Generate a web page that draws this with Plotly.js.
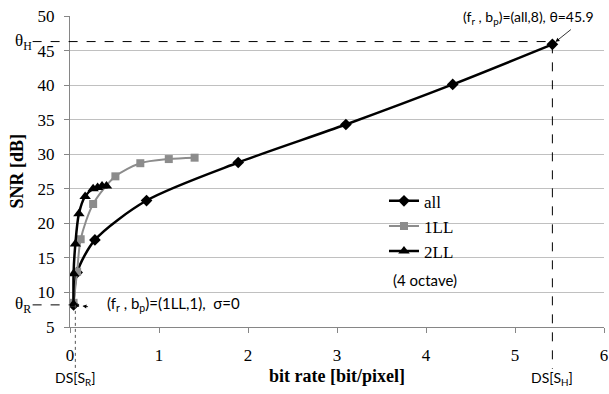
<!DOCTYPE html>
<html><head><meta charset="utf-8">
<script src="https://cdn.plot.ly/plotly-3.0.1.min.js"></script>
<style>body{margin:0;background:#fff}#chart{width:609px;height:394px}</style>
</head><body><div id="chart"></div>
<script>
// Data
const seriesNames = ["all", "1LL", "2LL"];
const allX = [0.04, 0.08, 0.28, 0.86, 1.89, 3.10, 4.30, 5.42];
const allY = [8.2, 12.9, 17.6, 23.3, 28.8, 34.3, 40.1, 45.9];
const oneLLX = [0.04, 0.08, 0.12, 0.26, 0.51, 0.79, 1.11, 1.40];
const oneLLY = [8.5, 13.0, 17.7, 22.8, 26.8, 28.7, 29.3, 29.5];
const twoLLX = [0.04, 0.04, 0.06, 0.10, 0.17, 0.26, 0.31, 0.36, 0.41];
const twoLLY = [8.3, 12.7, 17.0, 21.4, 23.9, 25.0, 25.2, 25.4, 25.4];
const xTicks = [0, 1, 2, 3, 4, 5, 6];
const yTicks = [5, 10, 15, 20, 25, 30, 35, 40, 45, 50];
const xRange = [0, 6];
const yRange = [5, 50];

const serif = "Liberation Serif, Times New Roman, serif";
const sans = "Lato, Open Sans, sans-serif";

const traces = [
  {x: allX, y: allY, name: seriesNames[0], mode: "lines+markers",
   line: {color: "#000", width: 2.5, shape: "spline", smoothing: 0.8},
   marker: {symbol: "diamond", size: 9, color: "#000"}},
  {x: oneLLX, y: oneLLY, name: seriesNames[1], mode: "lines+markers",
   line: {color: "#8c8c8c", width: 2, shape: "spline", smoothing: 0.8},
   marker: {symbol: "square", size: 8, color: "#8c8c8c"}},
  {x: twoLLX, y: twoLLY, name: seriesNames[2], mode: "lines+markers",
   line: {color: "#000", width: 2.5, shape: "spline", smoothing: 0.8},
   marker: {symbol: "triangle-up", size: 10, color: "#000"}}
];

// reference points
const hX = allX[allX.length - 1], hY = allY[allY.length - 1];
const rX = allX[0], rY = allY[0];
const toPaperX = v => (v - xRange[0]) / (xRange[1] - xRange[0]);
const toPaperY = v => (v - yRange[0]) / (yRange[1] - yRange[0]);
const dash = {color: "#000", width: 1, dash: "dash"};

const layout = {
  width: 609, height: 394,
  margin: {l: 70, r: 5, t: 16, b: 67},
  paper_bgcolor: "#fff", plot_bgcolor: "#fff",
  showlegend: true,
  legend: {x: 0.588, y: 0.462, xanchor: "left", yanchor: "top",
           font: {family: serif, size: 17, color: "#000"},
           bgcolor: "rgba(0,0,0,0)", tracegroupgap: 0, itemwidth: 30},
  xaxis: {range: xRange, tickvals: xTicks, showgrid: false, zeroline: false,
          showline: true, linecolor: "#868686", linewidth: 1,
          ticks: "outside", ticklen: 5, tickcolor: "#868686",
          tickfont: {family: serif, size: 17, color: "#000"}, ticklabelstandoff: 8,
          title: {text: "<b>bit rate [bit/pixel]</b>", font: {family: serif, size: 18, color: "#000"}, standoff: 4}},
  yaxis: {range: yRange, tickvals: yTicks, showgrid: true, gridcolor: "#c0c0c0", gridwidth: 1,
          zeroline: false, showline: true, linecolor: "#868686", linewidth: 1,
          ticks: "outside", ticklen: 5, tickcolor: "#868686",
          tickfont: {family: serif, size: 17, color: "#000"}, ticklabelstandoff: 6},
  shapes: [
    {type: "line", xref: "paper", yref: "y", x0: -0.07, x1: toPaperX(hX), y0: hY + 0.4, y1: hY + 0.4, line: dash},
    {type: "line", xref: "x", yref: "paper", x0: hX, x1: hX, y0: toPaperY(hY), y1: -0.135, line: dash},
    {type: "line", xref: "paper", yref: "y", x0: -0.07, x1: toPaperX(rX), y0: rY, y1: rY, line: dash},
    {type: "line", xref: "x", yref: "paper", x0: rX + 0.02, x1: rX + 0.02, y0: toPaperY(rY), y1: -0.135, line: {color: "#555", width: 1, dash: "dot"}}
  ],
  annotations: [
    {xref: "paper", yref: "paper", x: -0.101, y: 0.5, text: "<b>SNR [dB]</b>", textangle: -90, showarrow: false,
     font: {family: serif, size: 18, color: "#000"}, xanchor: "center", yanchor: "middle"},
    {xref: "paper", yref: "y", x: -0.088, y: hY + 0.4, text: "θ<sub>H</sub>", showarrow: false,
     font: {family: serif, size: 17, color: "#000"}, xanchor: "center", yanchor: "middle"},
    {xref: "paper", yref: "y", x: -0.088, y: rY, text: "θ<sub>R</sub>", showarrow: false,
     font: {family: serif, size: 17, color: "#000"}, xanchor: "center", yanchor: "middle"},
    {xref: "x", yref: "paper", x: rX + 0.02, y: -0.164, text: "DS[S<sub>R</sub>]", showarrow: false,
     font: {family: sans, size: 14, color: "#000"}, xanchor: "center", yanchor: "middle"},
    {xref: "x", yref: "paper", x: hX, y: -0.164, text: "DS[S<sub>H</sub>]", showarrow: false,
     font: {family: sans, size: 14, color: "#000"}, xanchor: "center", yanchor: "middle"},
    {xref: "paper", yref: "paper", x: 0.985, y: 0.995, text: "(f<sub>r</sub> , b<sub>p</sub>)=(all,8), θ=45.9", showarrow: false,
     font: {family: sans, size: 14, color: "#000"}, xanchor: "right", yanchor: "middle"},
    {xref: "x", yref: "y", x: hX, y: hY, text: "", showarrow: true, arrowhead: 2, arrowsize: 1, arrowwidth: 0.8,
     arrowcolor: "#000", ax: 20, ay: -16, standoff: 4},
    {xref: "paper", yref: "y", x: 0.066, y: rY + 0.1, text: "(f<sub>r</sub> , b<sub>p</sub>)=(1LL,1),  σ=0", showarrow: false,
     font: {family: sans, size: 15, color: "#000"}, xanchor: "left", yanchor: "middle"},
    {xref: "x", yref: "y", x: rX, y: rY, text: "", showarrow: true, arrowhead: 2, arrowsize: 1, arrowwidth: 0.8,
     arrowcolor: "#000", ax: 16, ay: 2, standoff: 9},
    {xref: "paper", yref: "paper", x: 0.601, y: 0.151, text: "(4 octave)", showarrow: false,
     font: {family: sans, size: 15, color: "#000"}, xanchor: "left", yanchor: "middle"}
  ]
};

Plotly.newPlot("chart", traces, layout, {displayModeBar: false, staticPlot: true});
</script></body></html>
